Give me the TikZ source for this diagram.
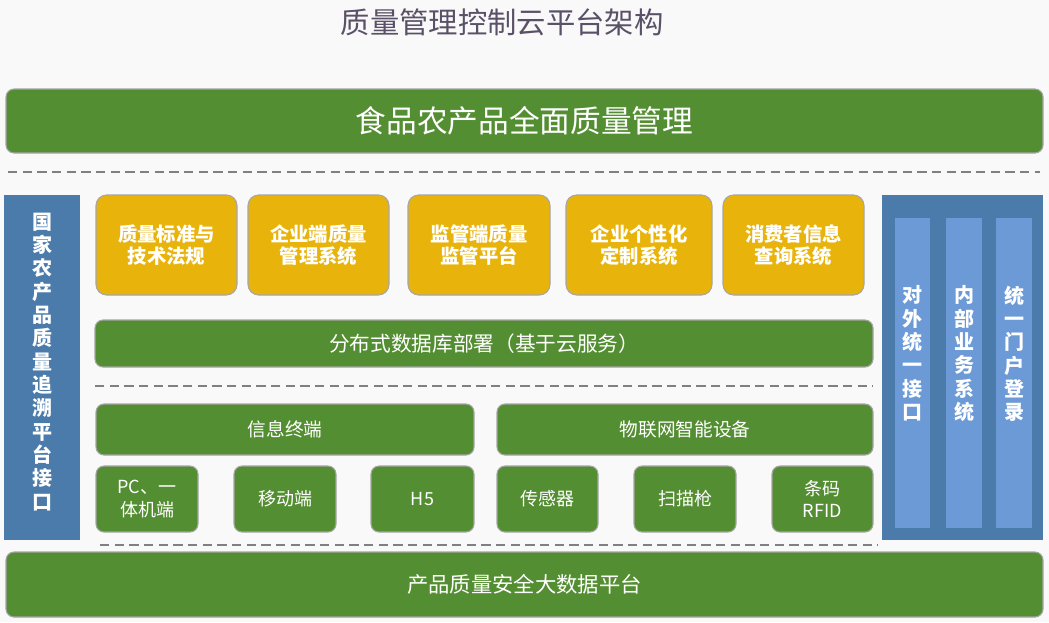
\documentclass[tikz,border=0pt]{standalone}
\usepackage{fontspec}
\setmainfont{Noto Sans CJK SC}
\usetikzlibrary{positioning}
\definecolor{gbar}{HTML}{548E32}
\definecolor{ybox}{HTML}{E8B40C}
\definecolor{bpanel}{HTML}{4B7BAA}
\definecolor{bin}{HTML}{6B9AD6}
\definecolor{ttl}{HTML}{5A5068}
\tikzset{
  greenbar/.style={draw=gray!70, line width=0.8pt, fill=gbar, rounded corners=6pt, text=white, inner sep=0pt},
  yellowbox/.style={draw=gray!70, line width=0.8pt, fill=ybox, rounded corners=8pt, text=white, align=center, inner sep=0pt, font=\fontsize{14.5}{17}\selectfont\bfseries},
  smallbox/.style={draw=gray!70, line width=0.8pt, fill=gbar, rounded corners=6pt, text=white, align=center, inner sep=0pt, font=\fontsize{13.5}{17}\selectfont},
  sepline/.style={dashed, gray, line width=1pt, dash pattern=on 7pt off 4pt},
  vtext/.style={text=white, align=center, font=\fontsize{15}{17.5}\selectfont\bfseries, anchor=north}
}
\begin{document}
\begin{tikzpicture}[x=0.75pt,y=-0.75pt]
	\useasboundingbox (0,0) rectangle (1049,622);
	\fill[gray!5] (0,0) rectangle (1049,622);
	\node[text=ttl, font=\fontsize{22}{26}\selectfont] (title) at (502,22) {质量管理控制云平台架构};
	% top layer
	\draw[greenbar] (6,89) rectangle (1043,153);
	\node[text=white, font=\fontsize{23}{26}\selectfont] (food) at (524.5,121) {食品农产品全面质量管理};
	\draw[sepline] (8,172) -- (1040,172);
	% left panel
	\fill[bpanel] (4,195) rectangle (80,540);
	\node[vtext] (gov) at (42,208) {国\\家\\农\\产\\品\\质\\量\\追\\溯\\平\\台\\接\\口};
	% application systems
	\foreach \xa/\xb/\txt/\nm in {96/237/{质量标准与\\技术法规}/std, 248/389/{企业端质量\\管理系统}/ent, 408/550/{监管端质量\\监管平台}/sup, 566/712/{企业个性化\\定制系统}/cus, 723/864/{消费者信息\\查询系统}/con}
		\draw[yellowbox] (\xa,195) rectangle node (\nm) {\txt} (\xb,295);
	\draw[greenbar] (95,320) rectangle node[font=\fontsize{15.5}{18}\selectfont] (db) {分布式数据库部署（基于云服务）} (873,367);
	\draw[sepline] (95,386) -- (873,386);
	% terminals
	\draw[greenbar] (96,404) rectangle node[font=\fontsize{14}{17}\selectfont] (term) {信息终端} (474,455);
	\draw[greenbar] (497,404) rectangle node[font=\fontsize{14}{17}\selectfont] (iot) {物联网智能设备} (873,455);
	\foreach \xa/\xb/\txt/\nm in {96/198/{PC、一\\体机端}/pc, 234/336/{移动端}/mob, 371/474/{H5}/hf, 497/598/{传感器}/sen, 634/736/{扫描枪}/scan, 772/873/{条码\\RFID}/rfid}
		\draw[smallbox] (\xa,466) rectangle node (\nm) {\txt} (\xb,532);
	\draw[sepline] (100,545) -- (878,545);
	% right panel
	\fill[bpanel] (882,195) rectangle (1043,540);
	\foreach \xa/\xb/\txt/\nm in {895/930/{对\\外\\统\\一\\接\\口}/ext, 946/982/{内\\部\\业\\务\\系\\统}/inn, 996/1032/{统\\一\\门\\户\\登\\录}/sso}
	{
		\fill[bin] (\xa,218) rectangle (\xb,528);
		\node[vtext] (\nm) at ({(\xa+\xb)/2},281) {\txt};
	}
	% bottom layer
	\draw[greenbar] (6,552) rectangle node[font=\fontsize{16}{19}\selectfont] (bigdata) {产品质量安全大数据平台} (1043,617);
\end{tikzpicture}
\end{document}
